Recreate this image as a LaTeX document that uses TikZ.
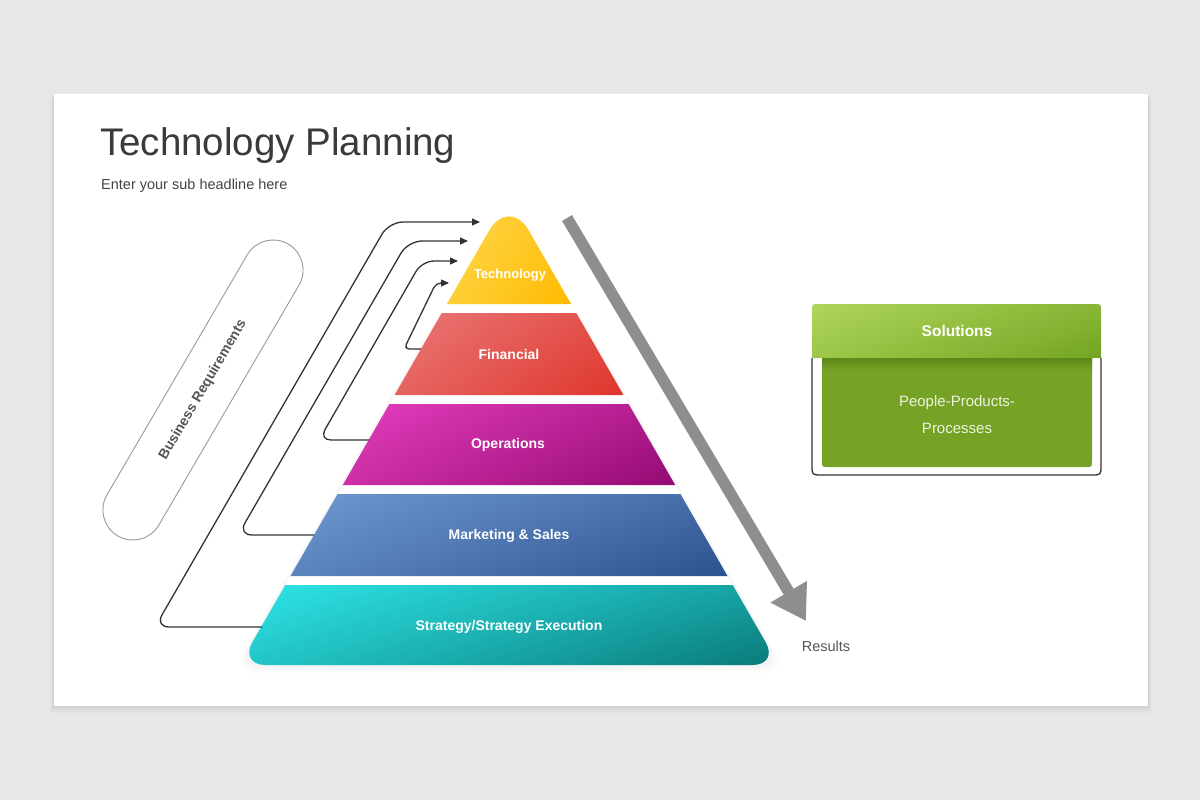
\documentclass[tikz,border=0pt]{standalone}
\usepackage{fontspec}
\setmainfont{Liberation Sans}
\usetikzlibrary{arrows.meta,shadings}
\definecolor{bg}{HTML}{E8E6E8}
\definecolor{titlec}{HTML}{3A3A3A}
\definecolor{subc}{HTML}{444444}
\definecolor{linec}{HTML}{333333}
\definecolor{capc}{HTML}{9A9A9A}
\definecolor{brc}{HTML}{555555}
\definecolor{arrowc}{HTML}{8E8E8E}
\definecolor{techA}{HTML}{FFD84E}
\definecolor{techB}{HTML}{FFBA00}
\definecolor{finA}{HTML}{E97878}
\definecolor{finB}{HTML}{DF352B}
\definecolor{opsA}{HTML}{E43EBE}
\definecolor{opsB}{HTML}{940A72}
\definecolor{mktA}{HTML}{7099D0}
\definecolor{mktB}{HTML}{2C528E}
\definecolor{strA}{HTML}{2EE6E8}
\definecolor{strB}{HTML}{0A7A7A}
\definecolor{solA}{HTML}{AED65A}
\definecolor{solB}{HTML}{74A424}
\definecolor{body}{HTML}{76A226}
\definecolor{bodyS}{HTML}{5A8618}
\definecolor{bodytxt}{HTML}{EEF4E0}
\begin{document}
\begin{tikzpicture}[x=1pt,y=-1pt,
  grad/.style 2 args={upper left=#1, lower right=#2, upper right=#1!35!#2, lower left=#1!70!#2},
  lbl/.style={text=white, font=\bfseries\fontsize{14}{16}\selectfont, inner sep=0},
  conn/.style={draw=linec, line width=1.3pt, -{Triangle[length=8pt,width=7pt]}},
  plain/.style={inner sep=0}]
\useasboundingbox (0,0) rectangle (1200,800);
\fill[bg] (0,0) rectangle (1200,800);
% slide with soft shadow
\foreach \i/\o in {8/0.012,6/0.018,4/0.025,2/0.035}{
  \fill[black,opacity=\o] ({54-\i/2},{94+\i/2}) rectangle ({1148+\i/2},{706+\i});}
\fill[white] (54,94) rectangle (1148,706);

% titles
\node[plain, anchor=base west, text=titlec, font=\fontsize{38.5}{44}\selectfont] (title) at (100,155) {Technology Planning};
\node[plain, anchor=base west, text=subc, font=\fontsize{14.5}{17}\selectfont] (sub) at (101,189) {Enter your sub headline here};

% business requirements capsule
\node[draw=capc, line width=0.9pt, rounded corners=30pt, minimum width=338pt, minimum height=60pt,
      rotate=59.7, text=brc, font=\bfseries\fontsize{14}{16}\selectfont] (br) at (203,390) {Business Requirements};

% soft glow under pyramid
\foreach \i/\o in {8/0.01,5/0.015,2/0.02}{
  \fill[black,opacity=\o,rounded corners=24pt] ({509-62-\i},{304+\i}) -- ({509+62+\i},{304+\i}) -- ({779+\i},{665+\i}) -- ({239-\i},{665+\i}) -- cycle;}
\fill[white,rounded corners=24pt] (446.9,304) -- (571.1,304) -- (778.7,665) -- (239.3,665) -- cycle;

% pyramid layers
\shade[grad={techA}{techB}] (446.9,304) -- (489.1,230.7) .. controls (500.0,211.6) and (518.0,211.6) .. (528.9,230.7) -- (571.1,304) -- cycle;
\shade[grad={finA}{finB}] (441.7,313) -- (576.3,313) -- (623.4,395) -- (394.6,395) -- cycle;
\shade[grad={opsA}{opsB}] (389.4,404) -- (628.6,404) -- (675.2,485) -- (342.8,485) -- cycle;
\shade[grad={mktA}{mktB}] (337.6,494) -- (680.4,494) -- (727.5,576) -- (290.5,576) -- cycle;
\shade[grad={strA}{strB}] (285.3,585) -- (732.7,585) -- (765.8,642.5) .. controls (772.9,654.9) and (767,665) .. (752.7,665)
   -- (265.3,665) .. controls (251,665) and (245.1,654.9) .. (252.2,642.5) -- cycle;

\node[lbl, font=\bfseries\fontsize{13}{15}\selectfont] (tech) at (510,275) {Technology};
\node[lbl] (fin) at (509,354) {Financial};
\node[lbl] (ops) at (508,445) {Operations};
\node[lbl] (mkt) at (509,536) {Marketing \& Sales};
\node[lbl] (str) at (509,627) {Strategy/Strategy Execution};

% connectors
\coordinate (s1) at (262,627); \coordinate (e1) at (480,222);
\coordinate (s2) at (314,535); \coordinate (e2) at (468,241);
\coordinate (s3) at (369,440); \coordinate (e3) at (458,261);
\coordinate (s4) at (421,349); \coordinate (e4) at (449,283);
\draw[conn, rounded corners=14pt] (s1) -- (155,627) -- (389,222) -- (e1);
\draw[conn, rounded corners=14pt] (s2) -- (238,535) -- (408,241) -- (e2);
\draw[conn, rounded corners=12pt] (s3) -- (319,440) -- (422,261) -- (e3);
\draw[conn, rounded corners=5pt] (s4) -- (404,349) -- (436,283) -- (e4);

% results arrow
\coordinate (ra) at (567,218); \coordinate (rb) at (806,621);
\draw[draw=arrowc, line width=11.5pt, -{Triangle[length=34pt,width=40pt]}] (ra) -- (rb);
\node[plain, anchor=base, text=brc, font=\fontsize{14.5}{17}\selectfont] (res) at (826,651) {Results};

% solutions box
\draw[draw=linec, line width=1.3pt] (812,358) -- (812,465) .. controls (812,475) .. (822,475) -- (1091,475)
   .. controls (1101,475) .. (1101,465) -- (1101,358);
\fill[body] (822,358) -- (1092,358) -- (1092,461) .. controls (1092,467) .. (1086,467) -- (828,467)
   .. controls (822,467) .. (822,461) -- cycle;
\shade[top color=bodyS, bottom color=body] (822,358) rectangle (1092,370);
\shade[grad={solA}{solB}] (812,358) -- (812,311) .. controls (812,304) .. (819,304) -- (1094,304)
   .. controls (1101,304) .. (1101,311) -- (1101,358) -- cycle;
\node[lbl, font=\bfseries\fontsize{15.5}{18}\selectfont] (sol) at (957,331) {Solutions};
\node[plain, text=bodytxt, font=\fontsize{15}{27}\selectfont, align=center] (ppp) at (957,415) {People-Products-\\Processes};
\end{tikzpicture}
\end{document}
